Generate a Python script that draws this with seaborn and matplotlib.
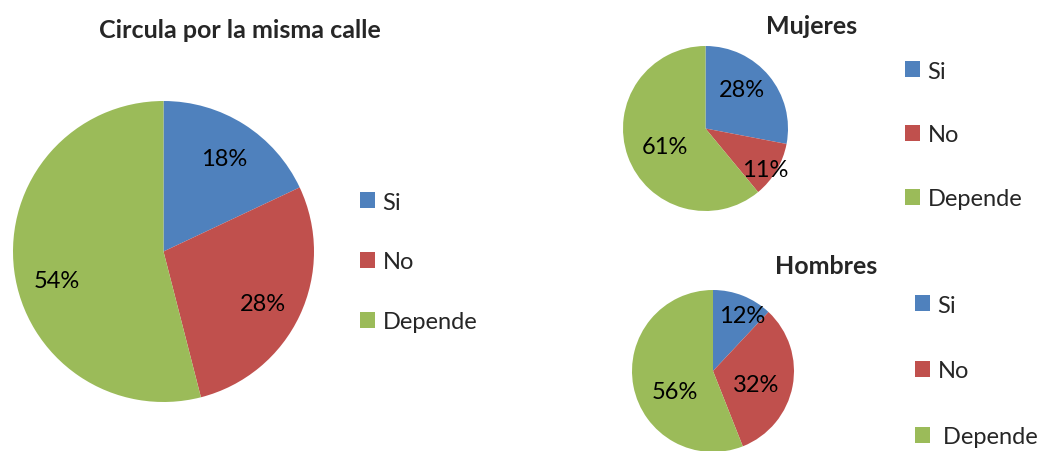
import numpy as np
import matplotlib
matplotlib.use("Agg")
import matplotlib.pyplot as plt
from matplotlib.patches import Patch
import seaborn as sns

# datos
categorias = ["Si", "No", "Depende"]
total = [18, 28, 54]
mujeres = [28, 11, 61]
hombres = [12, 32, 56]

titulo_total = "Circula por la misma calle"
titulo_mujeres = "Mujeres"
titulo_hombres = "Hombres"

sns.set_theme(style="white")
plt.rcParams["font.family"] = ["Lato", "DejaVu Sans"]

colores = sns.color_palette(["#4F81BD", "#C0504D", "#9BBB59"])

W, H = 1044, 452
fig = plt.figure(figsize=(W / 100, H / 100), dpi=100)
fig.patch.set_facecolor("white")


def px_rect(left, top, size):
    return [left / W, 1 - (top + size) / H, size / W, size / H]


def torta(rect, valores, etiquetas_pos, fs):
    # etiquetas_pos: (distancia radial, giro en grados) de cada porcentaje
    ax = fig.add_axes(rect)
    wedges, textos, autos = ax.pie(valores, colors=colores, startangle=90,
                                   counterclock=False, autopct="%.0f%%",
                                   pctdistance=0.7,
                                   wedgeprops=dict(linewidth=0))
    for w, t, (f, giro) in zip(wedges, autos, etiquetas_pos):
        ang = np.deg2rad((w.theta1 + w.theta2) / 2 + giro)
        t.set_position((f * np.cos(ang), f * np.sin(ang)))
        t.set_fontsize(fs)
        t.set_color("black")
        t.set_va("center_baseline")
    ax.set_xlim(-1, 1)
    ax.set_ylim(-1, 1)
    ax.set_aspect("equal")
    ax.axis("off")
    return ax


def leyenda(x, y, spacing, labels):
    handles = [Patch(facecolor=c, edgecolor="none") for c in colores]
    fig.legend(handles, labels, loc="center left",
               bbox_to_anchor=(x / W, 1 - y / H), frameon=False,
               fontsize=17, handlelength=0.65, handleheight=0.65,
               handletextpad=0.3, labelspacing=spacing,
               borderpad=0, borderaxespad=0)


torta(px_rect(13, 102, 301), total,
      [(0.75, 0), (0.74, -1.6), (0.73, 7)], 17)
torta(px_rect(623, 47, 165), mujeres,
      [(0.67, 9), (0.86, -2.3), (0.53, 2.2)], 17)
torta(px_rect(632, 291, 162), hombres,
      [(0.79, -5.4), (0.55, -3.5), (0.52, 14.5)], 17)

fig.text(240 / W, 1 - 30 / H, titulo_total, ha="center", va="center",
         fontsize=18, fontweight="bold")
fig.text(812 / W, 1 - 27 / H, titulo_mujeres, ha="center", va="center",
         fontsize=18, fontweight="bold")
fig.text(826 / W, 1 - 266 / H, titulo_hombres, ha="center", va="center",
         fontsize=18, fontweight="bold")

leyenda(360, 263, 1.65, categorias)
leyenda(905, 136, 1.82, categorias)
leyenda(915, 372, 1.9, categorias[:2] + [" " + categorias[2]])

fig.savefig("out.png", dpi=100, facecolor="white")
